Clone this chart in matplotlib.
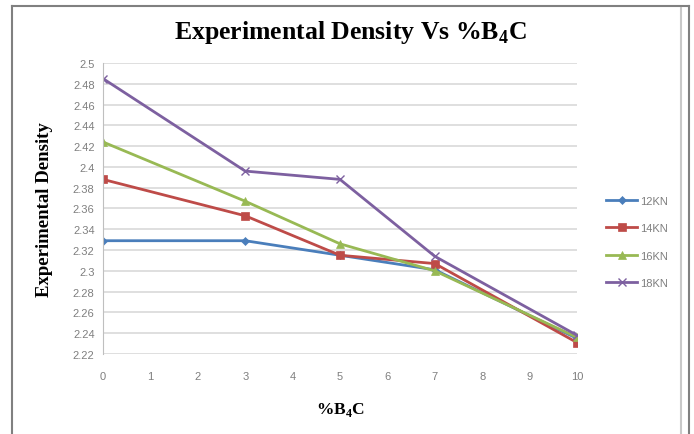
import matplotlib.pyplot as plt
from matplotlib.lines import Line2D

# data
b4c = [0, 3, 5, 7, 10]
kn12 = [2.329, 2.329, 2.315, 2.301, 2.235]
kn14 = [2.388, 2.353, 2.315, 2.307, 2.231]
kn16 = [2.424, 2.367, 2.326, 2.300, 2.236]
kn18 = [2.485, 2.396, 2.388, 2.314, 2.238]
labels = ['12KN', '14KN', '16KN', '18KN']
yticks = [2.22 + 0.02 * i for i in range(15)]

plt.rcParams['mathtext.fontset'] = 'custom'
plt.rcParams['mathtext.rm'] = 'Liberation Serif:bold'
plt.rcParams['mathtext.bf'] = 'Liberation Serif:bold'

fig = plt.figure(figsize=(6.94, 4.35), dpi=100)
ax = fig.add_axes([0.1484, 0.1839, 0.683, 0.669])

styles = [('#4A7EBB', 'D', 4), ('#BE4B48', 's', 6), ('#98B954', '^', 6), ('#7D60A0', 'x', 6)]
for vals, lab, (c, m, ms) in zip([kn12, kn14, kn16, kn18], labels, styles):
    ax.plot(b4c, vals, color=c, marker=m, markersize=ms, lw=2, label=lab,
            markeredgewidth=1 if m == 'x' else 0.5)

ax.set_xlim(0, 10)
ax.set_ylim(2.22, 2.5)
ax.set_xticks(range(11))
ax.set_yticks(yticks)
ax.set_yticklabels(['%g' % round(v, 2) for v in yticks])
ax.grid(axis='y', color='#d9d9d9', lw=1.2)
ax.set_axisbelow(True)
for s in ['top', 'right']:
    ax.spines[s].set_visible(False)
ax.spines['left'].set_color('#bfbfbf')
ax.spines['bottom'].set_visible(False)
ax.tick_params(axis='both', colors='#7f7f7f', labelsize=8, length=0,
               labelfontfamily='Liberation Sans')
ax.tick_params(axis='x', pad=12)
ax.tick_params(axis='y', pad=6)

fig.text(0.505, 0.925, 'Experimental Density Vs %B$_\\mathbf{4}$C', ha='center', va='center',
         family='Liberation Serif', weight='bold', fontsize=18.5)
ax.set_ylabel('Experimental Density', family='Liberation Serif', weight='bold',
              fontsize=13.5, labelpad=14)
ax.set_xlabel('%B$_\\mathbf{4}$C', family='Liberation Serif', weight='bold',
              fontsize=12.5, labelpad=14)

leg = ax.legend(loc='center left', bbox_to_anchor=(1.04, 0.385), frameon=False,
                fontsize=8, handlelength=2.8, labelspacing=1.55, handletextpad=0.3)
for t in leg.get_texts():
    t.set_color('#7f7f7f')
    t.set_family('Liberation Sans')

# outer frame lines
fig.add_artist(Line2D([12 / 694, 12 / 694], [0, 1 - 7 / 435], color='#808080', lw=1.5))
fig.add_artist(Line2D([12 / 694, 689 / 694], [1 - 7 / 435, 1 - 7 / 435], color='#808080', lw=1.5))
fig.add_artist(Line2D([689 / 694, 689 / 694], [0, 1 - 7 / 435], color='#808080', lw=1.5))
fig.add_artist(Line2D([681 / 694, 681 / 694], [0, 1 - 9 / 435], color='#c8c8c8', lw=1.5))

fig.savefig('out.png', dpi=100)
